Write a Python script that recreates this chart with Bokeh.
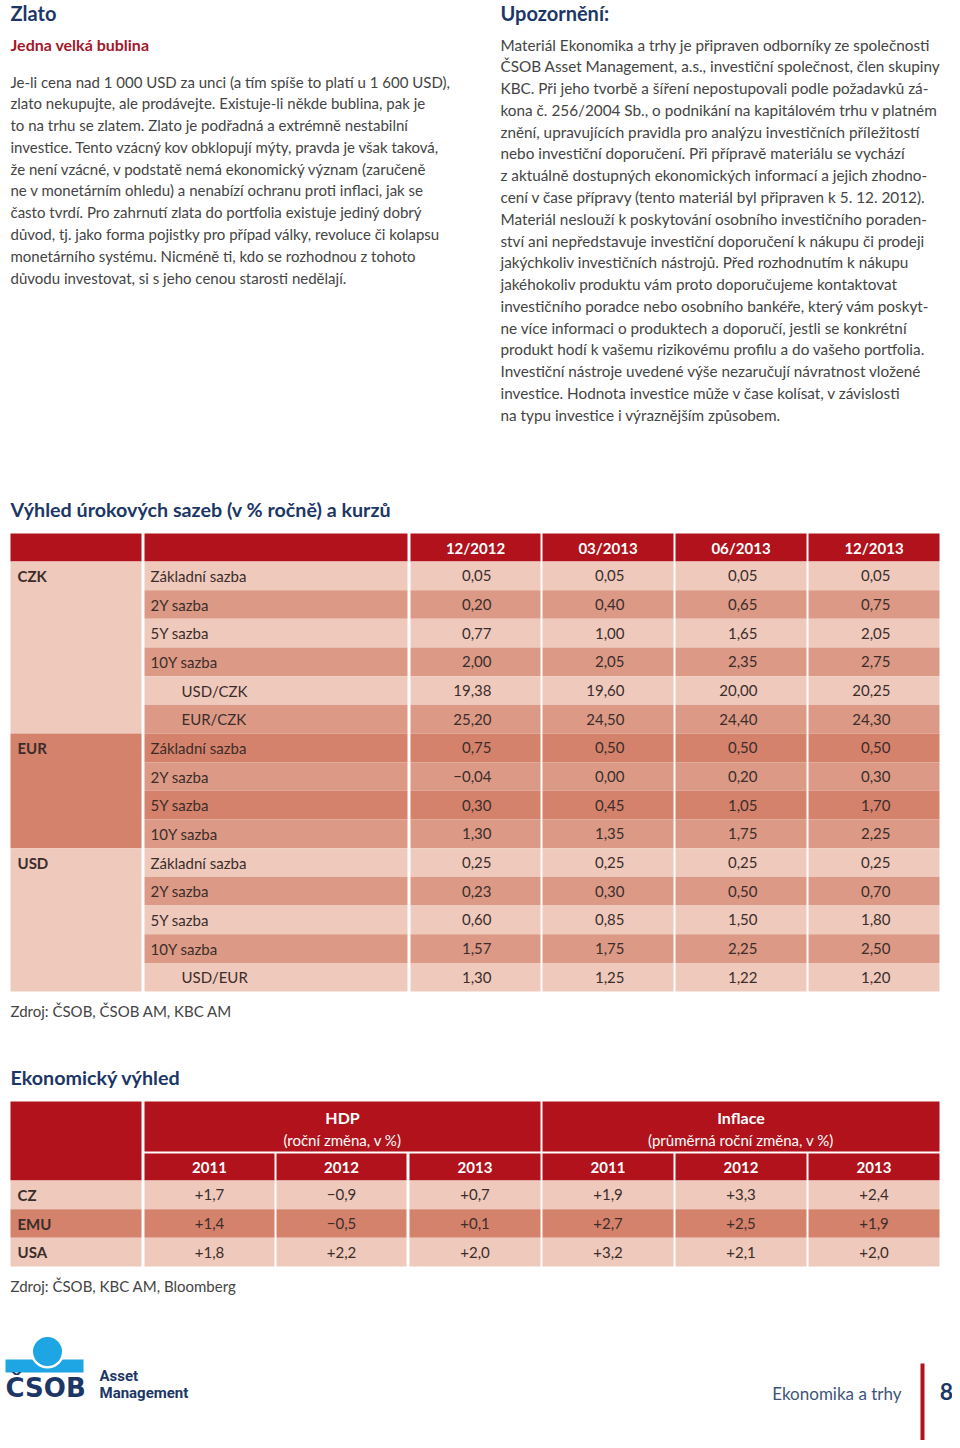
from bokeh.plotting import figure
from bokeh.models import Range1d, ColumnDataSource
from bokeh.core.properties import value
from bokeh.embed import file_html
from bokeh.resources import INLINE

# ---------------- data ----------------
left_title = "Zlato"
left_subtitle = "Jedna velká bublina"
left_lines = [
    "Je-li cena nad 1 000 USD za unci (a tím spíše to platí u 1 600 USD),",
    "zlato nekupujte, ale prodávejte. Existuje-li někde bublina, pak je",
    "to na trhu se zlatem. Zlato je podřadná a extrémně nestabilní",
    "investice. Tento vzácný kov obklopují mýty, pravda je však taková,",
    "že není vzácné, v podstatě nemá ekonomický význam (zaručeně",
    "ne v monetárním ohledu) a nenabízí ochranu proti inflaci, jak se",
    "často tvrdí. Pro zahrnutí zlata do portfolia existuje jediný dobrý",
    "důvod, tj. jako forma pojistky pro případ války, revoluce či kolapsu",
    "monetárního systému. Nicméně ti, kdo se rozhodnou z tohoto",
    "důvodu investovat, si s jeho cenou starosti nedělají.",
]
right_title = "Upozornění:"
right_lines = [
    "Materiál Ekonomika a trhy je připraven odborníky ze společnosti",
    "ČSOB Asset Management, a.s., investiční společnost, člen skupiny",
    "KBC. Při jeho tvorbě a šíření nepostupovali podle požadavků zá-",
    "kona č. 256/2004 Sb., o podnikání na kapitálovém trhu v platném",
    "znění, upravujících pravidla pro analýzu investičních příležitostí",
    "nebo investiční doporučení. Při přípravě materiálu se vychází",
    "z aktuálně dostupných ekonomických informací a jejich zhodno-",
    "cení v čase přípravy (tento materiál byl připraven k 5. 12. 2012).",
    "Materiál neslouží k poskytování osobního investičního poraden-",
    "ství ani nepředstavuje investiční doporučení k nákupu či prodeji",
    "jakýchkoliv investičních nástrojů. Před rozhodnutím k nákupu",
    "jakéhokoliv produktu vám proto doporučujeme kontaktovat",
    "investičního poradce nebo osobního bankéře, který vám poskyt-",
    "ne více informaci o produktech a doporučí, jestli se konkrétní",
    "produkt hodí k vašemu rizikovému profilu a do vašeho portfolia.",
    "Investiční nástroje uvedené výše nezaručují návratnost vložené",
    "investice. Hodnota investice může v čase kolísat, v závislosti",
    "na typu investice i výraznějším způsobem.",
]

rate_title = "Výhled úrokových sazeb (v % ročně) a kurzů"
rate_periods = ["12/2012", "03/2013", "06/2013", "12/2013"]
rate_groups = ["CZK", "EUR", "USD"]
rate_group_sizes = [6, 4, 5]
rate_labels = ["Základní sazba", "2Y sazba", "5Y sazba", "10Y sazba", "USD/CZK", "EUR/CZK",
               "Základní sazba", "2Y sazba", "5Y sazba", "10Y sazba",
               "Základní sazba", "2Y sazba", "5Y sazba", "10Y sazba", "USD/EUR"]
rate_is_fx = [0, 0, 0, 0, 1, 1, 0, 0, 0, 0, 0, 0, 0, 0, 1]
rate_12_2012 = [0.05, 0.20, 0.77, 2.00, 19.38, 25.20, 0.75, -0.04, 0.30, 1.30, 0.25, 0.23, 0.60, 1.57, 1.30]
rate_03_2013 = [0.05, 0.40, 1.00, 2.05, 19.60, 24.50, 0.50, 0.00, 0.45, 1.35, 0.25, 0.30, 0.85, 1.75, 1.25]
rate_06_2013 = [0.05, 0.65, 1.65, 2.35, 20.00, 24.40, 0.50, 0.20, 1.05, 1.75, 0.25, 0.50, 1.50, 2.25, 1.22]
rate_12_2013 = [0.05, 0.75, 2.05, 2.75, 20.25, 24.30, 0.50, 0.30, 1.70, 2.25, 0.25, 0.70, 1.80, 2.50, 1.20]
rate_source = "Zdroj: ČSOB, ČSOB AM, KBC AM"

econ_title = "Ekonomický výhled"
econ_blocks = ["HDP", "Inflace"]
econ_block_notes = ["(roční změna, v %)", "(průměrná roční změna, v %)"]
econ_years = ["2011", "2012", "2013"]
econ_regions = ["CZ", "EMU", "USA"]
gdp_2011 = [1.7, 1.4, 1.8]
gdp_2012 = [-0.9, -0.5, 2.2]
gdp_2013 = [0.7, 0.1, 2.0]
inf_2011 = [1.9, 2.7, 3.2]
inf_2012 = [3.3, 2.5, 2.1]
inf_2013 = [2.4, 1.9, 2.0]
econ_source = "Zdroj: ČSOB, KBC AM, Bloomberg"

footer_brand = "ČSOB"
footer_sub = ["Asset", "Management"]
footer_pub = "Ekonomika a trhy"
footer_page = "8"

# ---------------- styles ----------------
FONT = "Lato"
NAVY = "#1c3766"
RED_T = "#a3182a"
BODY = "#444444"
CELL = "#3b2d2a"
HEAD = "#b1121b"
LIGHT = "#efc9bc"
MED = "#dc9a86"
DARK = "#d5826c"
BLUE = "#1ea5e3"

p = figure(width=952, height=1440, x_range=Range1d(0, 952), y_range=Range1d(1440, 0),
           output_backend="svg", toolbar_location=None, x_axis_type=None, y_axis_type=None,
           min_border=0, outline_line_color=None)
p.background_fill_color = "white"
p.border_fill_color = "white"


def txt(xs, ys, texts, size, color=BODY, bold=False, align="left", font=FONT):
    src = ColumnDataSource(dict(x=list(xs), y=list(ys), t=list(texts)))
    p.text("x", "y", "t", source=src, text_font=value(font), text_font_size=value(size),
           text_color=color, text_align=align, text_baseline="middle",
           text_font_style="bold" if bold else "normal")


def boxes(l, r, t, b, colors):
    src = ColumnDataSource(dict(l=list(l), r=list(r), t=list(t), b=list(b), c=list(colors)))
    p.quad(left="l", right="r", top="t", bottom="b", fill_color="c", line_color=None, source=src)


def fmt(v, sign=False, dec=2):
    s = f"{abs(v):.{dec}f}".replace(".", ",")
    if v < 0:
        return "\u2212" + s
    return ("+" + s) if sign else s


# ---------------- text columns ----------------
LH = 21.78
txt([10], [12], [left_title], "20px", NAVY, True)
txt([10], [44], [left_subtitle], "16px", RED_T, True)
txt([10] * len(left_lines), [81 + i * LH for i in range(len(left_lines))], left_lines, "15px")
txt([500], [12], [right_title], "20px", NAVY, True)
txt([500] * len(right_lines), [44 + i * LH for i in range(len(right_lines))], right_lines, "15.3px")

# ---------------- rate table ----------------
txt([10], [509], [rate_title], "19.7px", NAVY, True)
rc = [(10, 141), (144, 407), (410, 540), (542, 673), (675, 806), (808, 939)]
h_top, h_bot = 533, 561
rh = 28.67
n = len(rate_labels)
boxes([c[0] for c in rc], [c[1] for c in rc], [h_top] * 6, [h_bot] * 6, [HEAD] * 6)
txt([(c[0] + c[1]) / 2 for c in rc[2:]], [h_bot - 14] * 4, rate_periods, "15px", "white", True, "center")

group_row_cols = {"CZK": [LIGHT, MED] * 3, "EUR": [DARK, MED] * 2, "USD": [LIGHT, MED, LIGHT, MED, LIGHT]}
group_cols = {"CZK": LIGHT, "EUR": DARK, "USD": LIGHT}
row_colors = []
g_l, g_r, g_t, g_b, g_c, g_y = [], [], [], [], [], []
start = 0
for g, size in zip(rate_groups, rate_group_sizes):
    row_colors += group_row_cols[g][:size]
    g_l.append(rc[0][0]); g_r.append(rc[0][1])
    g_t.append(h_bot + start * rh); g_b.append(h_bot + (start + size) * rh)
    g_c.append(group_cols[g]); g_y.append(h_bot + start * rh + rh / 2)
    start += size
boxes(g_l, g_r, g_t, g_b, g_c)
txt([17] * 3, g_y, rate_groups, "15px", CELL, True)

cl, cr, ct, cb, cc = [], [], [], [], []
for i in range(n):
    for c in rc[1:]:
        cl.append(c[0]); cr.append(c[1])
        ct.append(h_bot + i * rh); cb.append(h_bot + (i + 1) * rh)
        cc.append(row_colors[i])
boxes(cl, cr, ct, cb, cc)
row_y = [h_bot + i * rh + rh / 2 for i in range(n)]
txt([181 if fx else 150 for fx in rate_is_fx], row_y, rate_labels, "15px", CELL)
for ci, series in enumerate([rate_12_2012, rate_03_2013, rate_06_2013, rate_12_2013]):
    c = rc[ci + 2]
    txt([c[1] - 49] * n, row_y, [fmt(v) for v in series], "15px", CELL, False, "right")
txt([10], [1010], [rate_source], "15px", BODY)

# ---------------- economic table ----------------
txt([10], [1077], [econ_title], "19.7px", NAVY, True)
ec = [(10, 141), (144, 274), (276, 406), (409, 540), (542, 673), (675, 806), (808, 939)]
e_top, e_mid1, e_mid2, e_bot = 1101, 1151, 1153, 1180
erh = 28.67
boxes([ec[0][0], ec[1][0], ec[4][0]], [ec[0][1], ec[3][1], ec[6][1]],
      [e_top] * 3, [e_bot, e_mid1, e_mid1], [HEAD] * 3)
boxes([c[0] for c in ec[1:]], [c[1] for c in ec[1:]], [e_mid2] * 6, [e_bot] * 6, [HEAD] * 6)
txt([(ec[1][0] + ec[3][1]) / 2, (ec[4][0] + ec[6][1]) / 2], [1117, 1117], econ_blocks, "16px", "white", True, "center")
txt([(ec[1][0] + ec[3][1]) / 2, (ec[4][0] + ec[6][1]) / 2], [1139, 1139], econ_block_notes, "15px", "white", False, "center")
txt([(c[0] + c[1]) / 2 for c in ec[1:]], [1166.5] * 6, econ_years * 2, "15px", "white", True, "center")

econ_row_colors = [LIGHT, DARK, LIGHT]
el, er, et, eb, ecc = [], [], [], [], []
for i in range(len(econ_regions)):
    for c in ec:
        el.append(c[0]); er.append(c[1])
        et.append(e_bot + i * erh); eb.append(e_bot + (i + 1) * erh)
        ecc.append(econ_row_colors[i])
boxes(el, er, et, eb, ecc)
ey = [e_bot + i * erh + erh / 2 for i in range(len(econ_regions))]
txt([17] * 3, ey, econ_regions, "15px", CELL, True)
for ci, series in enumerate([gdp_2011, gdp_2012, gdp_2013, inf_2011, inf_2012, inf_2013]):
    c = ec[ci + 1]
    txt([(c[0] + c[1]) / 2] * 3, ey, [fmt(v, True, 1) for v in series], "15px", CELL, False, "center")
txt([10], [1285], [econ_source], "15px", BODY)

# ---------------- footer ----------------
boxes([5], [83], [1359], [1372], [BLUE])
p.circle(x=[47], y=[1351], radius=17, fill_color="white", line_color=None)
p.circle(x=[47], y=[1351], radius=14.5, fill_color=BLUE, line_color=None)
txt([5], [1387], [footer_brand], "26px", NAVY, True, "left", "DejaVu Sans")
txt([99, 99], [1375, 1392], footer_sub, "15px", NAVY, True, "left", "Roboto")
txt([901], [1393], [footer_pub], "17px", "#3d5577", False, "right")
boxes([920], [924], [1363], [1440], [HEAD])
txt([946], [1391], [footer_page], "23px", NAVY, True, "center")

open("out.html", "w").write(file_html(p, INLINE))
